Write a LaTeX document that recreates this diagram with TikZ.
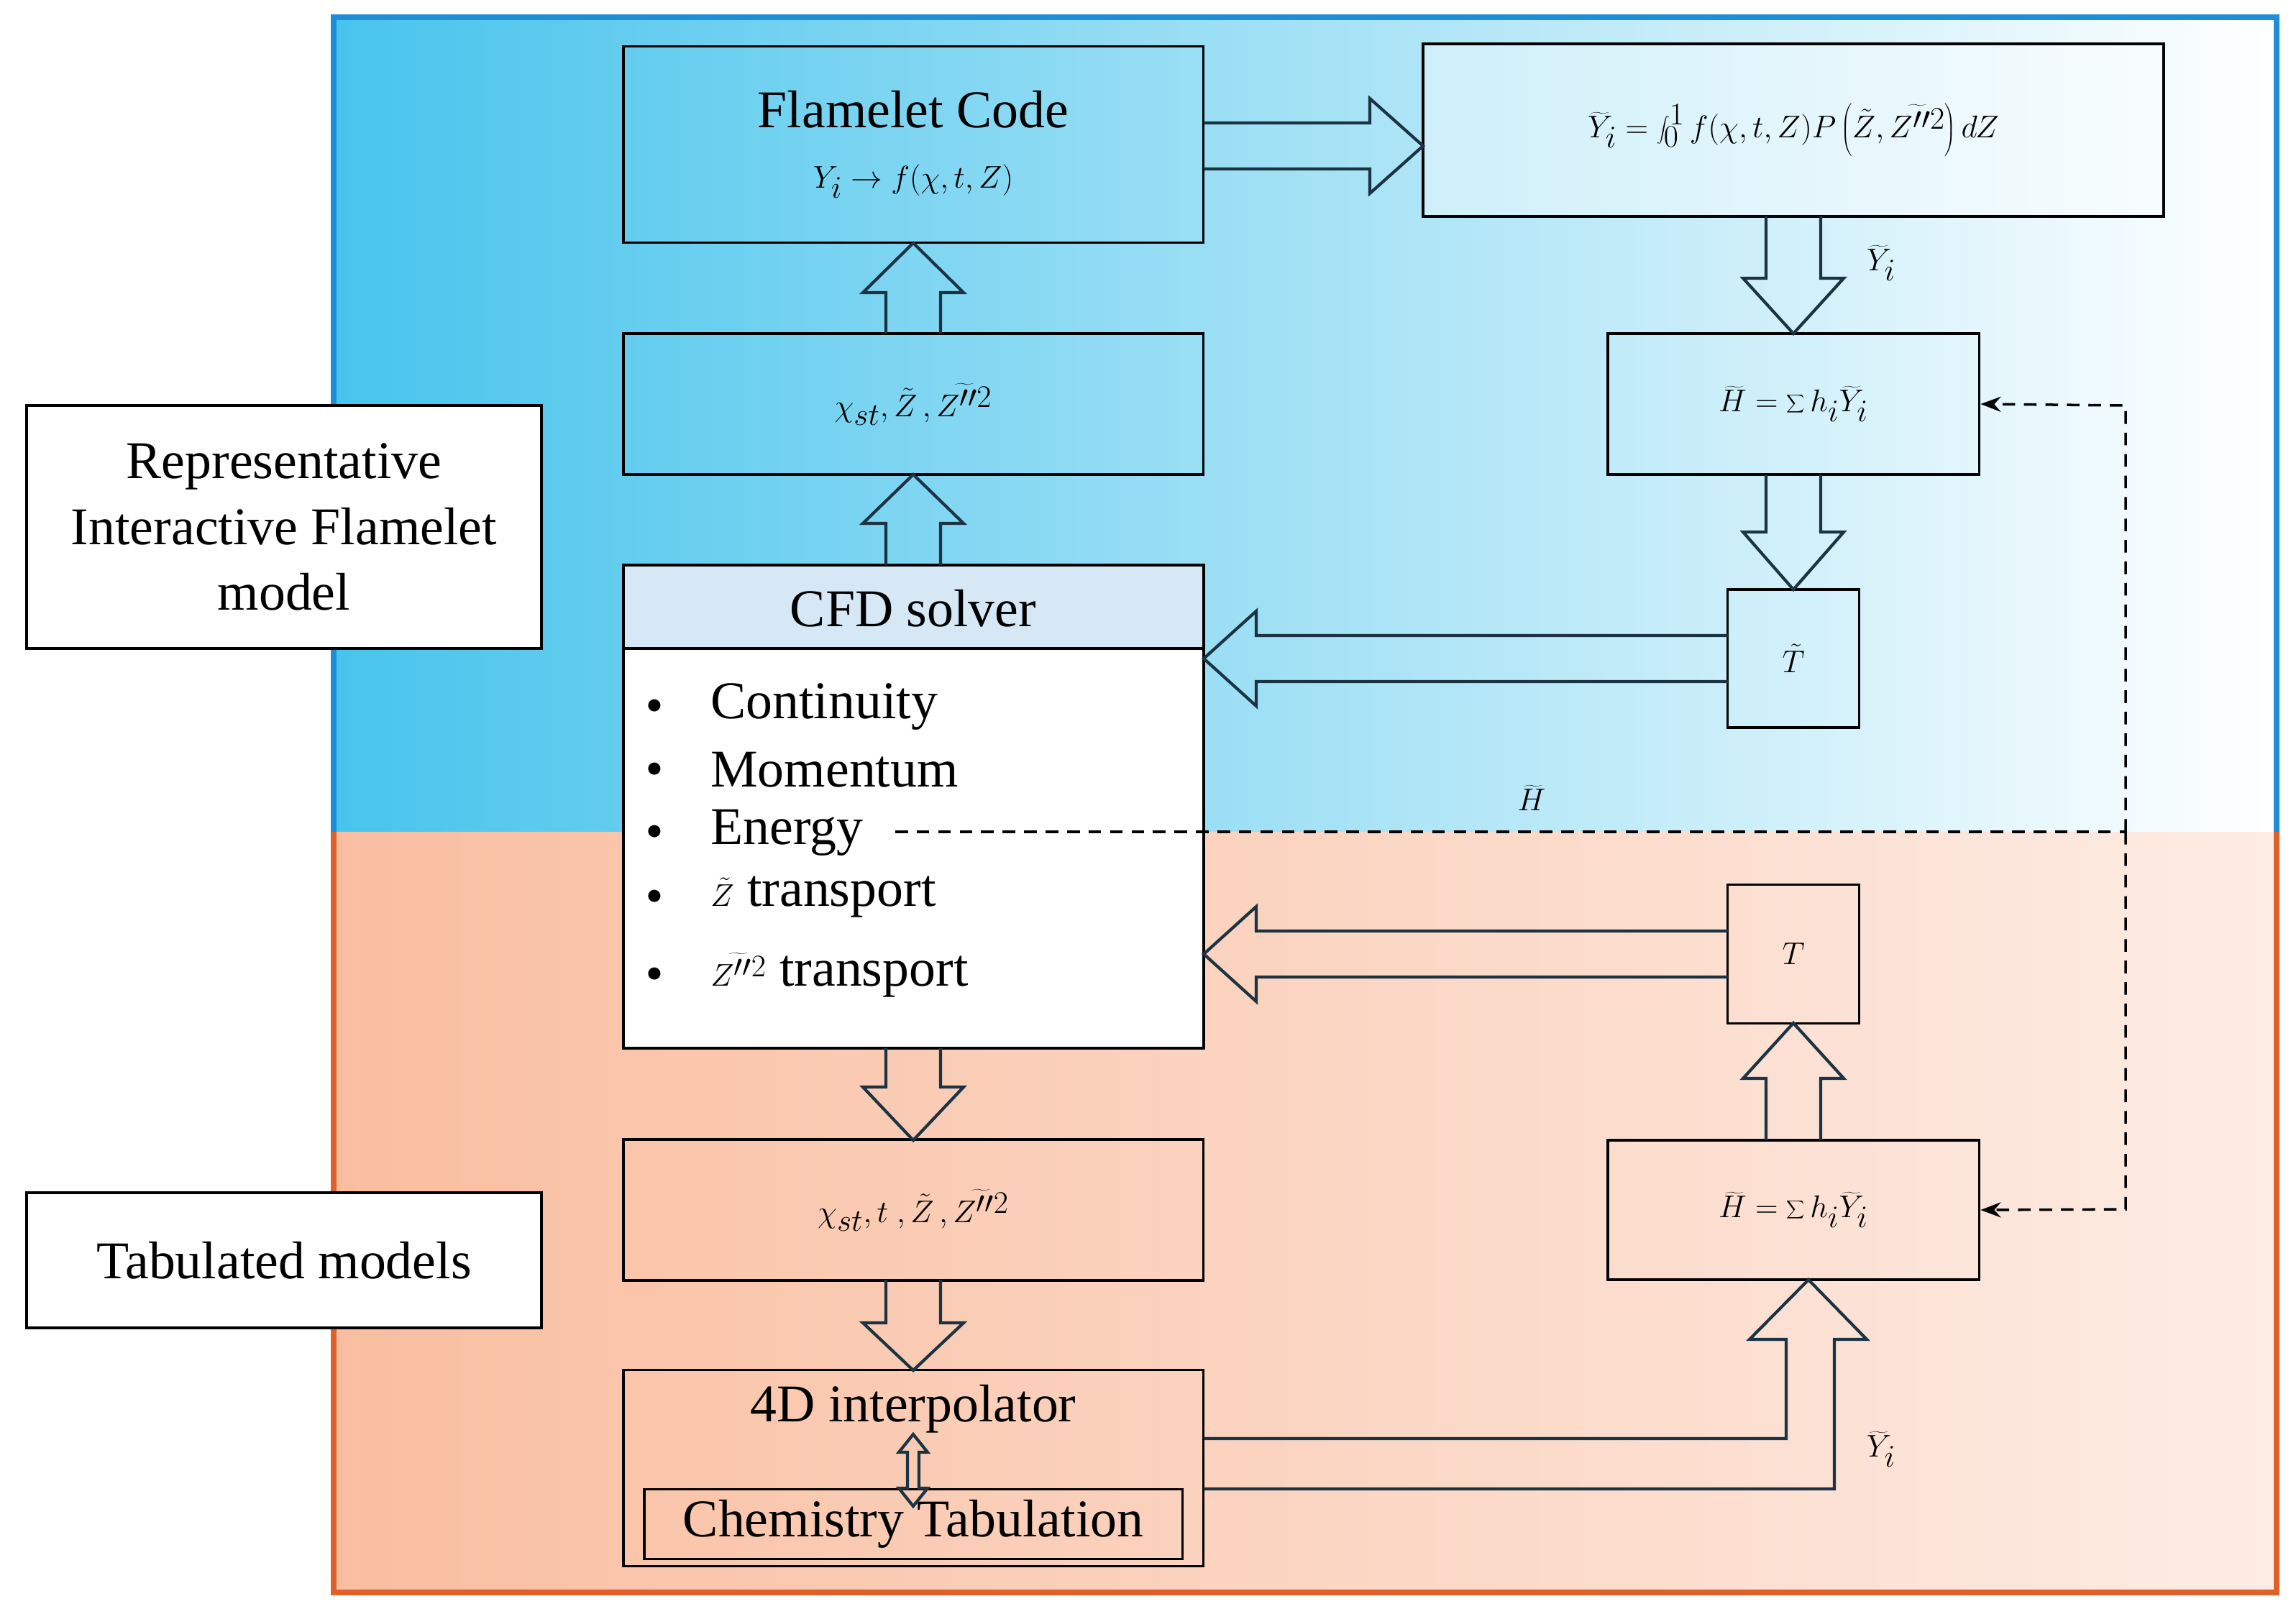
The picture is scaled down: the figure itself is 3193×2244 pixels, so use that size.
\documentclass[tikz,border=0pt]{standalone}
\usepackage{fontspec}
\setmainfont{Liberation Serif}
\usetikzlibrary{arrows.meta}
\definecolor{navy}{HTML}{1C3344}
\definecolor{bluebd}{HTML}{1E8FD6}
\definecolor{orbd}{HTML}{E0602A}
\definecolor{bluel}{RGB}{72,196,236}
\definecolor{orl}{RGB}{249,190,160}
\definecolor{orr}{RGB}{253,236,228}
\definecolor{hdr}{RGB}{214,232,246}
\begin{document}
\begin{tikzpicture}[x=0.02cm,y=-0.02cm,
  box/.style={draw=black,line width=2.2pt,inner sep=0pt,align=center,font=\fontsize{42}{52}\selectfont},
  barrow/.style={draw=navy,line width=2.4pt,line join=miter},
  dsh/.style={draw=black,line width=2pt,dash pattern=on 10pt off 7pt},
  lbl/.style={font=\fontsize{42}{52}\selectfont,inner sep=0pt}]
\useasboundingbox (0,0) rectangle (3193,2244);
% panels
\shade[left color=bluel,right color=white] (464,24) rectangle (3166,1157);
\shade[left color=orl,right color=orr] (464,1157) rectangle (3166,2215);
\draw[bluebd,line width=5pt] (464,1157) -- (464,24) -- (3166,24) -- (3166,1157);
\draw[orbd,line width=5pt] (464,1157) -- (464,2215) -- (3166,2215) -- (3166,1157);
% side labels
\node[box,fill=white,minimum width=14.32cm,minimum height=6.76cm] (rif) at (395,733) {Representative\\Interactive Flamelet\\model};
\node[box,fill=white,minimum width=14.32cm,minimum height=3.76cm] (tab) at (395,1753) {Tabulated models};
% left column
\node[box,minimum width=16.14cm,minimum height=5.46cm] (flc) at (1270,201) {Flamelet Code\\[-4pt]$Y_i \to f(\chi,t,Z)$};
\node[box,minimum width=16.14cm,minimum height=3.92cm] (chi1) at (1270,562) {$\chi_{st},\tilde Z\,,\widetilde{Z''^2}$};
\node[box,fill=white,minimum width=16.14cm,minimum height=13.44cm] (cfd) at (1270,1122) {};
\fill[hdr] (867,786) rectangle (1674,902);
\draw[line width=2.2pt] (867,902) -- (1674,902);
\draw[line width=2.2pt] (867,786) rectangle (1674,1458);
\node[lbl] (cfdt) at (1270,846) {CFD solver};
\foreach \y/\t/\n in {983/Continuity/c1,1071/Momentum/c2,1158/Energy/energy,1248/{$\tilde Z$ transport}/c4,1356/{$\widetilde{Z''^2}$ transport}/c5}{
  \node[lbl] at (910,\y) {$\bullet$};
  \node[lbl,anchor=west] (\n) at (988,\y) {\t};
}
\node[box,minimum width=16.14cm,minimum height=3.92cm] (chi2) at (1270,1683) {$\chi_{st},t\;,\tilde Z\,,\widetilde{Z''^2}$};
\node[box,minimum width=16.14cm,minimum height=5.46cm] (interp) at (1270,2042) {};
\node[lbl] (it) at (1270,1960) {4D interpolator};
\node[box,minimum width=14.98cm,minimum height=1.94cm] (chem) at (1270,2120) {Chemistry Tabulation};
% right column
\node[box,fill=white,fill opacity=0.4,text opacity=1,minimum width=20.6cm,minimum height=4.8cm] (form) at (2494,181) {$\displaystyle\widetilde{Y}_i=\int_0^1 f(\chi,t,Z)P\left(\tilde Z,\widetilde{Z''^2}\right)dZ$};
\node[box,minimum width=10.34cm,minimum height=3.92cm] (hs1) at (2494,562) {$\displaystyle\widetilde H=\sum h_i\widetilde Y_i$};
\node[box,minimum width=3.66cm,minimum height=3.84cm] (tt) at (2494,916) {$\tilde T$};
\node[box,minimum width=3.66cm,minimum height=3.86cm] (t) at (2494,1327) {$T$};
\node[box,minimum width=10.34cm,minimum height=3.88cm] (hs2) at (2494,1683) {$\displaystyle\widetilde H=\sum h_i\widetilde Y_i$};
% block arrows
\newcommand{\vbarrow}[4]{\draw[barrow] ({#1-38},#2) -- ({#1-38},#4) -- ({#1-70},#4) -- (#1,#3) -- ({#1+70},#4) -- ({#1+38},#4) -- ({#1+38},#2);}
\newcommand{\hbarrow}[4]{\draw[barrow] (#2,{#1-32}) -- (#4,{#1-32}) -- (#4,{#1-66}) -- (#3,#1) -- (#4,{#1+66}) -- (#4,{#1+32}) -- (#2,{#1+32});}
\vbarrow{1270}{464}{338}{407}
\vbarrow{1270}{786}{660}{728}
\vbarrow{1270}{1458}{1586}{1512}
\vbarrow{1270}{1780}{1906}{1840}
\vbarrow{2494}{301}{464}{387}
\vbarrow{2494}{660}{820}{740}
\vbarrow{2494}{1586}{1423}{1500}
\hbarrow{203}{1674}{1979}{1905}
\hbarrow{916}{2403}{1674}{1747}
\hbarrow{1327}{2403}{1674}{1747}
\draw[barrow] (1674,2001) -- (2484,2001) -- (2484,1863) -- (2433,1863) -- (2515,1780) -- (2596,1863) -- (2551,1863) -- (2551,2071) -- (1674,2071);
\draw[barrow] (1262,2020) -- (1262,2070) -- (1250,2070) -- (1270,2095) -- (1290,2070) -- (1278,2070) -- (1278,2020) -- (1290,2020) -- (1270,1995) -- (1250,2020) -- cycle;
\node[lbl] (ylab1) at (2616,366) {$\widetilde Y_i$};
\node[lbl] (ylab2) at (2616,2016) {$\widetilde Y_i$};
% dashed feedback
\coordinate (d0) at (1245,1157);
\coordinate (d1) at (2956,1157);
\coordinate (d2) at (2956,564);
\coordinate (d3) at (2956,1682);
\draw[dsh] (d0) -- (d1);
\draw[dsh,-{Stealth[length=16pt]}] (d1) -- (d2) -- (hs1.east);
\draw[dsh,-{Stealth[length=16pt]}] (d1) -- (d3) -- (hs2.east);
\node[lbl] (hlab) at (2130,1110) {$\widetilde H$};
\end{tikzpicture}
\end{document}
